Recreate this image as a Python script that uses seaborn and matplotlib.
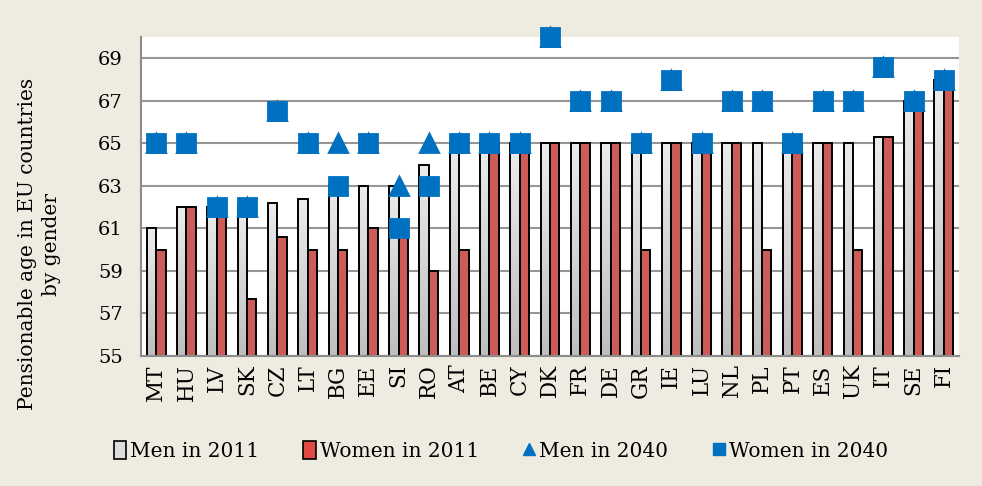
import numpy as np
import pandas as pd
import seaborn as sns
import matplotlib
matplotlib.use("Agg")
import matplotlib.pyplot as plt
from matplotlib.patches import Patch
from matplotlib.lines import Line2D

countries = ["MT", "HU", "LV", "SK", "CZ", "LT", "BG", "EE", "SI", "RO", "AT", "BE", "CY", "DK",
             "FR", "DE", "GR", "IE", "LU", "NL", "PL", "PT", "ES", "UK", "IT", "SE", "FI"]
men_2011 = [61, 62, 62, 62, 62.2, 62.4, 63, 63, 63, 64, 65, 65, 65, 65,
            65, 65, 65, 65, 65, 65, 65, 65, 65, 65, 65.3, 67, 68]
women_2011 = [60, 62, 62, 57.7, 60.6, 60, 60, 61, 61, 59, 60, 65, 65, 65,
              65, 65, 60, 65, 65, 65, 60, 65, 65, 60, 65.3, 67, 68]
men_2040 = [65, 65, 62, 62, 66.5, 65, 65, 65, 63, 65, 65, 65, 65, 70,
            67, 67, 65, 68, 65, 67, 67, 65, 67, 67, 68.6, 67, 68]
women_2040 = [65, 65, 62, 62, 66.5, 65, 63, 65, 61, 63, 65, 65, 65, 70,
              67, 67, 65, 68, 65, 67, 67, 65, 67, 67, 68.6, 67, 68]
yticks = [55, 57, 59, 61, 63, 65, 67, 69]

bars = pd.DataFrame({
    "country": countries * 2,
    "age": men_2011 + women_2011,
    "series": ["Men in 2011"] * len(countries) + ["Women in 2011"] * len(countries),
})
pts = pd.DataFrame({
    "country": countries * 2,
    "age": men_2040 + women_2040,
    "series": ["Men in 2040"] * len(countries) + ["Women in 2040"] * len(countries),
})

BG = "#EEEBE0"
RED = "#E04A45"
BLUE = "#0070C0"
SERIF = "DejaVu Serif"
YMIN, YMAX = 55, 70

sns.set_theme(style="white")
plt.rcParams["font.family"] = [SERIF]
plt.rcParams["text.color"] = "black"
plt.rcParams["xtick.color"] = "black"
plt.rcParams["ytick.color"] = "black"
plt.rcParams["axes.labelcolor"] = "black"

fig = plt.figure(figsize=(9.82, 4.86), dpi=100, facecolor=BG)
ax = fig.add_axes([0.1436, 0.2675, 0.8330, 0.6564])
ax.set_facecolor("white")

sns.barplot(data=bars, x="country", y="age", hue="series", order=countries,
            hue_order=["Men in 2011", "Women in 2011"],
            palette=["#D9D9D9", RED], width=0.62, gap=0, dodge=True,
            edgecolor="black", linewidth=1.4, ax=ax, legend=False, zorder=2)

# vertical gradient for men bars
grad = np.linspace(0, 1, 256).reshape(-1, 1)
cmap = matplotlib.colors.LinearSegmentedColormap.from_list("g", ["#BEBEBE", "#ECECEC"])
n = len(countries)
for p in ax.patches[:n]:
    x0 = p.get_x()
    w, h = p.get_width(), p.get_height()
    top = p.get_y() + h
    im = ax.imshow(grad, cmap=cmap, aspect="auto", origin="lower",
                   extent=[x0, x0 + w, YMIN, top], zorder=1.9)
    im.set_clip_path(p)
    p.set_facecolor((0, 0, 0, 0))
    p.set_zorder(2)

sns.pointplot(data=pts, x="country", y="age", hue="series", order=countries,
              hue_order=["Men in 2040", "Women in 2040"],
              palette=[BLUE, BLUE], markers=["^", "s"], linestyles=["none", "none"],
              dodge=False, markersize=12.5, ax=ax, legend=False, errorbar=None)
for c in ax.collections + ax.lines:
    c.set_zorder(5)
    c.set_clip_on(False)

ax.set_xlim(-0.5, n - 0.5)
ax.set_ylim(YMIN, YMAX)
ax.set_yticks(yticks)
ax.set_yticklabels([str(v) for v in yticks], fontsize=14, family=SERIF)
ax.set_xticks(range(n))
ax.set_xticklabels(countries, rotation=90, fontsize=15.5, family=SERIF)
ax.set_xticks(np.arange(-0.5, n, 1), minor=True)
ax.tick_params(axis="x", which="major", length=0, pad=6, colors="black")
ax.tick_params(axis="x", which="minor", length=6, width=1.2, color="#8C8C8C")
ax.tick_params(axis="y", which="major", length=7, width=1.2, color="#8C8C8C", pad=6,
               labelcolor="black")
ax.grid(axis="y", color="#969696", linewidth=1.5)
ax.set_axisbelow(True)
for s in ["top", "right"]:
    ax.spines[s].set_visible(False)
for s in ["left", "bottom"]:
    ax.spines[s].set_color("#8C8C8C")
    ax.spines[s].set_linewidth(1.5)
ax.set_xlabel("")
ax.set_ylabel("Pensionable age in EU countries\nby gender", fontsize=14.5, family=SERIF,
              linespacing=1.3, color="black")
ax.yaxis.set_label_coords(-0.098, 0.35)

handles = [
    Patch(facecolor="#DCDCDC", edgecolor="black", linewidth=1.2),
    Patch(facecolor=RED, edgecolor="black", linewidth=1.2),
    Line2D([], [], marker="^", color=BLUE, linestyle="none", markersize=9),
    Line2D([], [], marker="s", color=BLUE, linestyle="none", markersize=9),
]
labels = ["Men in 2011", "Women in 2011", "Men in 2040", "Women in 2040"]
fig.legend(handles, labels, loc="center", bbox_to_anchor=(0.51, 0.072), ncol=4,
           frameon=False, prop={"family": SERIF, "size": 14.5},
           handlelength=0.6, handleheight=1.0, handletextpad=0.2, columnspacing=2.2)

fig.savefig("out.png", dpi=100, facecolor=BG)
